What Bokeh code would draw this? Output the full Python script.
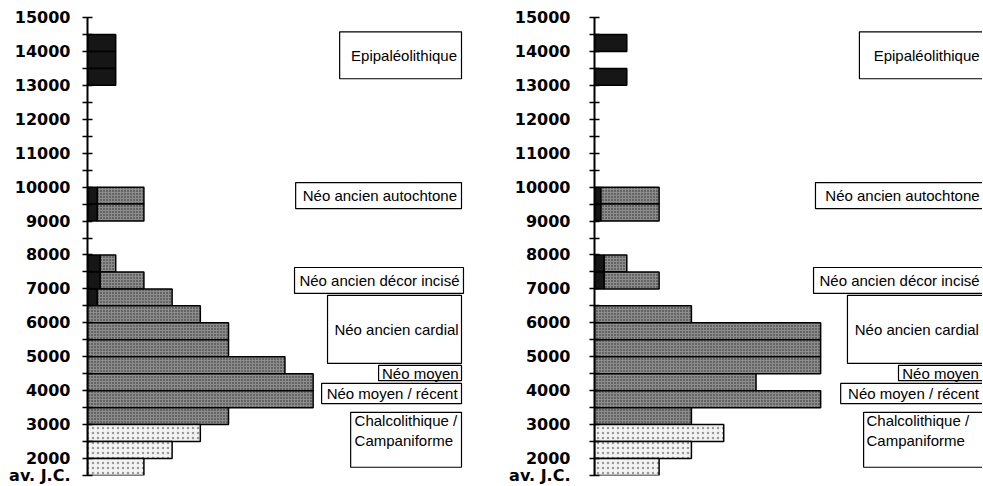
from bokeh.plotting import figure
from bokeh.models import Range1d, FixedTicker, ColumnDataSource
from bokeh.layouts import row
from bokeh.embed import file_html
from bokeh.resources import INLINE
from bokeh.core.properties import value

# ---------------- data ----------------
bin_start = [14000, 13500, 13000, 12500, 12000, 11500, 11000, 10500, 10000,
             9500, 9000, 8500, 8000, 7500, 7000, 6500, 6000, 5500, 5000,
             4500, 4000, 3500, 3000, 2500, 2000, 1500]
bin_width = 500

left_counts = [1, 1, 1, 0, 0, 0, 0, 0, 0, 2, 2, 0, 0, 1, 2, 3, 4, 5, 5, 7, 8, 8, 5, 4, 3, 2]
left_dark = [1, 1, 1, 0, 0, 0, 0, 0, 0, 0.35, 0.35, 0, 0, 0.45, 0.45, 0.35,
             0, 0, 0, 0, 0, 0, 0, 0, 0, 0]

right_counts = [1, 0, 1, 0, 0, 0, 0, 0, 0, 2, 2, 0, 0, 1, 2, 0, 3, 7, 7, 7, 5, 7, 3, 4, 3, 2]
right_dark = [1, 0, 1, 0, 0, 0, 0, 0, 0, 0.2, 0.2, 0, 0, 0.3, 0.3, 0,
              0, 0, 0, 0, 0, 0, 0, 0, 0, 0]

chalco_below = 3000  # bins starting below this year are Chalcolithique

periods = ["Epipaléolithique", "Néo ancien autochtone", "Néo ancien décor incisé",
           "Néo ancien cardial", "Néo moyen", "Néo moyen / récent",
           "Chalcolithique /\nCampaniforme"]

year_ticks = [1500, 2000, 3000, 4000, 5000, 6000, 7000, 8000, 9000, 10000,
              11000, 12000, 13000, 14000, 15000]
minor_year_ticks = [2500, 3500, 4500, 5500, 6500, 7500, 8500, 9500, 10500,
                    11500, 12500, 13500, 14500]
year_tick_labels = {1500: "av. J.C."}

# ---------------- layout (box geometry, not data) ----------------
box_y = [(13195, 14579), (9368, 10134), (6866, 7631), (4805, 6807),
         (4296, 4746), (3619, 4215), (1743, 3362)]
left_box_x = [(8.94, 13.26), (7.38, 13.26), (7.34, 13.33), (8.51, 13.26),
              (10.32, 13.26), (8.30, 13.26), (9.33, 13.26)]
left_text_x = [13.10, 13.10, 13.19, 13.16, 13.16, 13.12, 9.47]
right_box_x = [(8.20, 12.6), (6.84, 12.6), (6.78, 12.6), (7.83, 12.6),
               (9.41, 12.6), (7.62, 12.6), (8.33, 12.6)]
right_text_x = [11.92, 11.92, 11.92, 11.90, 11.90, 11.90, 8.42]
chalco_text_y = 2832

GREY = dict(fill_color="#8c8c8c", hatch_pattern="dot", hatch_color="#262626",
            hatch_scale=3, hatch_weight=1)
LIGHT = dict(fill_color="#f3f3f3", hatch_pattern="dot", hatch_color="#9a9a9a",
             hatch_scale=5, hatch_weight=1)
DARK = dict(fill_color="#161616")


def segments(counts, dark):
    out = {"dark": {"y": [], "l": [], "r": []},
           "grey": {"y": [], "l": [], "r": []},
           "light": {"y": [], "l": [], "r": []}}
    for b, t, d in zip(bin_start, counts, dark):
        if t == 0:
            continue
        yc = b + bin_width / 2
        if d > 0:
            out["dark"]["y"].append(yc); out["dark"]["l"].append(0); out["dark"]["r"].append(d)
        if t > d:
            k = "light" if b < chalco_below else "grey"
            out[k]["y"].append(yc); out[k]["l"].append(d); out[k]["r"].append(t)
    return out


def panel(counts, dark, width, min_left, x_end, standoff, box_x, text_x):
    p = figure(width=width, height=485, output_backend="svg", toolbar_location=None,
               x_range=Range1d(0, x_end), y_range=Range1d(1500, 15000),
               min_border_left=min_left, min_border_right=0,
               min_border_top=17, min_border_bottom=10, x_axis_location=None)
    p.outline_line_color = None
    p.grid.visible = False

    segs = segments(counts, dark)
    for kind, style in (("dark", DARK), ("grey", GREY), ("light", LIGHT)):
        src = ColumnDataSource(segs[kind])
        p.hbar(y="y", left="l", right="r", height=bin_width, source=src,
               line_color="black", line_width=1.5, **style)

    # period boxes
    p.quad(left=[b[0] for b in box_x], right=[b[1] for b in box_x],
           bottom=[b[0] for b in box_y], top=[b[1] for b in box_y],
           fill_color="white", line_color="black", line_width=1.2)
    ys = [(b[0] + b[1]) / 2 for b in box_y[:-1]] + [chalco_text_y]
    p.text(x=text_x[:-1], y=ys[:-1], text=periods[:-1], text_align="right",
           text_baseline="middle", text_font=value("Liberation Sans"),
           text_font_size="15px", text_color="black")
    p.text(x=[text_x[-1]], y=[ys[-1]], text=[periods[-1]], text_align="left",
           text_baseline="middle", text_font=value("Liberation Sans"),
           text_font_size="15px", text_color="black", text_line_height=1.15)

    ax = p.yaxis[0]
    ax.ticker = FixedTicker(ticks=year_ticks, minor_ticks=minor_year_ticks)
    ax.major_label_overrides = year_tick_labels
    ax.major_label_text_font = "DejaVu Sans"
    ax.major_label_text_font_size = "16px"
    ax.major_label_text_font_style = "bold"
    ax.major_label_text_color = "black"
    ax.major_label_standoff = standoff
    ax.axis_line_width = 2
    ax.axis_line_color = "black"
    ax.major_tick_in = 5
    ax.major_tick_out = 5
    ax.minor_tick_in = 5
    ax.minor_tick_out = 5
    ax.major_tick_line_color = "black"
    ax.minor_tick_line_color = "black"
    ax.major_tick_line_width = 1.5
    ax.minor_tick_line_width = 1.5
    return p


left = panel(left_counts, left_dark, 505, 87, 14.82, 12, left_box_x, left_text_x)
right = panel(right_counts, right_dark, 477, 89, 12.01, 19, right_box_x, right_text_x)

layout = row(left, right)
open("out.html", "w").write(file_html(layout, INLINE))
